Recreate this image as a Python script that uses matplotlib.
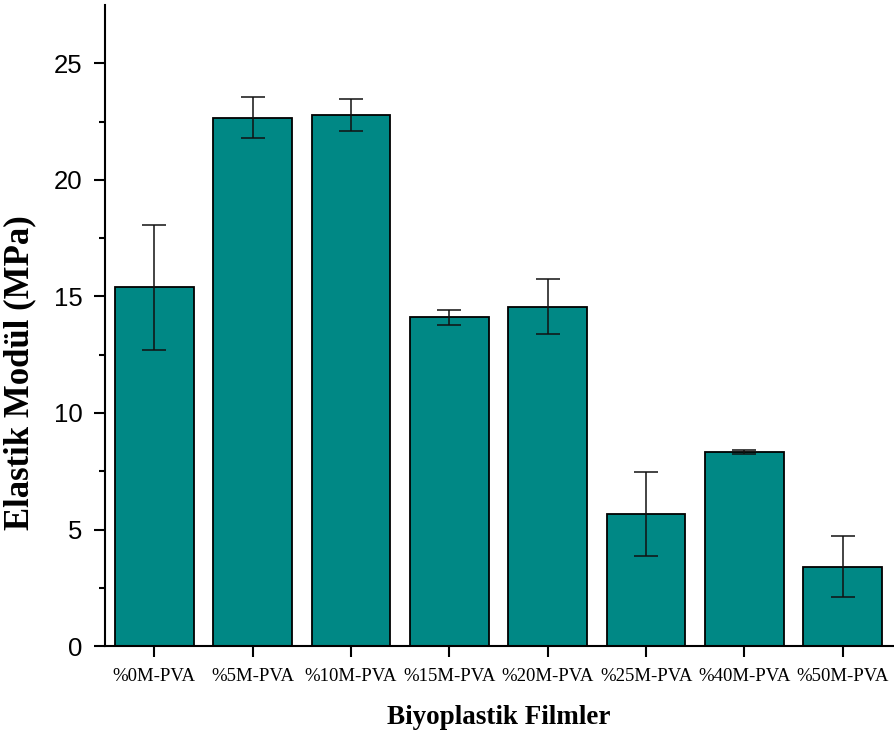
import matplotlib.pyplot as plt
import numpy as np

# veriler
filmler = ['%0M-PVA', '%5M-PVA', '%10M-PVA', '%15M-PVA',
           '%20M-PVA', '%25M-PVA', '%40M-PVA', '%50M-PVA']
modul = [15.40, 22.68, 22.78, 14.10, 14.56, 5.66, 8.32, 3.40]
hata = [2.68, 0.90, 0.69, 0.34, 1.18, 1.80, 0.10, 1.30]

fig = plt.figure(figsize=(8.94, 7.40), dpi=100)
ax = fig.add_axes([0.1174, 0.127, 0.8815, 0.866])

x = np.arange(len(filmler))
ax.bar(x, modul, width=0.8, color='#008885', edgecolor='black', linewidth=1.3,
       yerr=hata, capsize=8.5, error_kw={'elinewidth': 1.1, 'capthick': 1.1, 'ecolor': '#111111'})

ax.set_xlim(-0.5, 7.51)
ax.set_ylim(0, 27.5)
ax.set_yticks([0, 5, 10, 15, 20, 25])
ax.set_yticks(np.arange(2.5, 27.5, 5), minor=True)
ax.set_xticks(x)
ax.set_xticklabels(filmler, fontfamily='Liberation Serif', fontsize=13.5)
for lbl in ax.get_yticklabels():
    lbl.set_fontfamily('Liberation Sans')
    lbl.set_fontsize(18.5)

ax.spines['top'].set_visible(False)
ax.spines['right'].set_visible(False)
ax.spines['left'].set_linewidth(1.5)
ax.spines['bottom'].set_linewidth(1.5)
ax.tick_params(axis='both', which='major', direction='out', length=8, width=1.5)
ax.tick_params(axis='y', which='minor', direction='out', length=4.5, width=1.5)
ax.tick_params(axis='x', pad=8)
ax.tick_params(axis='y', pad=8)

ax.set_xlabel('Biyoplastik Filmler', fontfamily='Liberation Serif', fontweight='bold',
              fontsize=19.5, labelpad=14)
ax.set_ylabel('Elastik Modül (MPa)', fontfamily='Liberation Serif', fontweight='bold',
              fontsize=25)
ax.yaxis.set_label_coords(-0.087, 0.427)

plt.savefig('out.png', dpi=100)
